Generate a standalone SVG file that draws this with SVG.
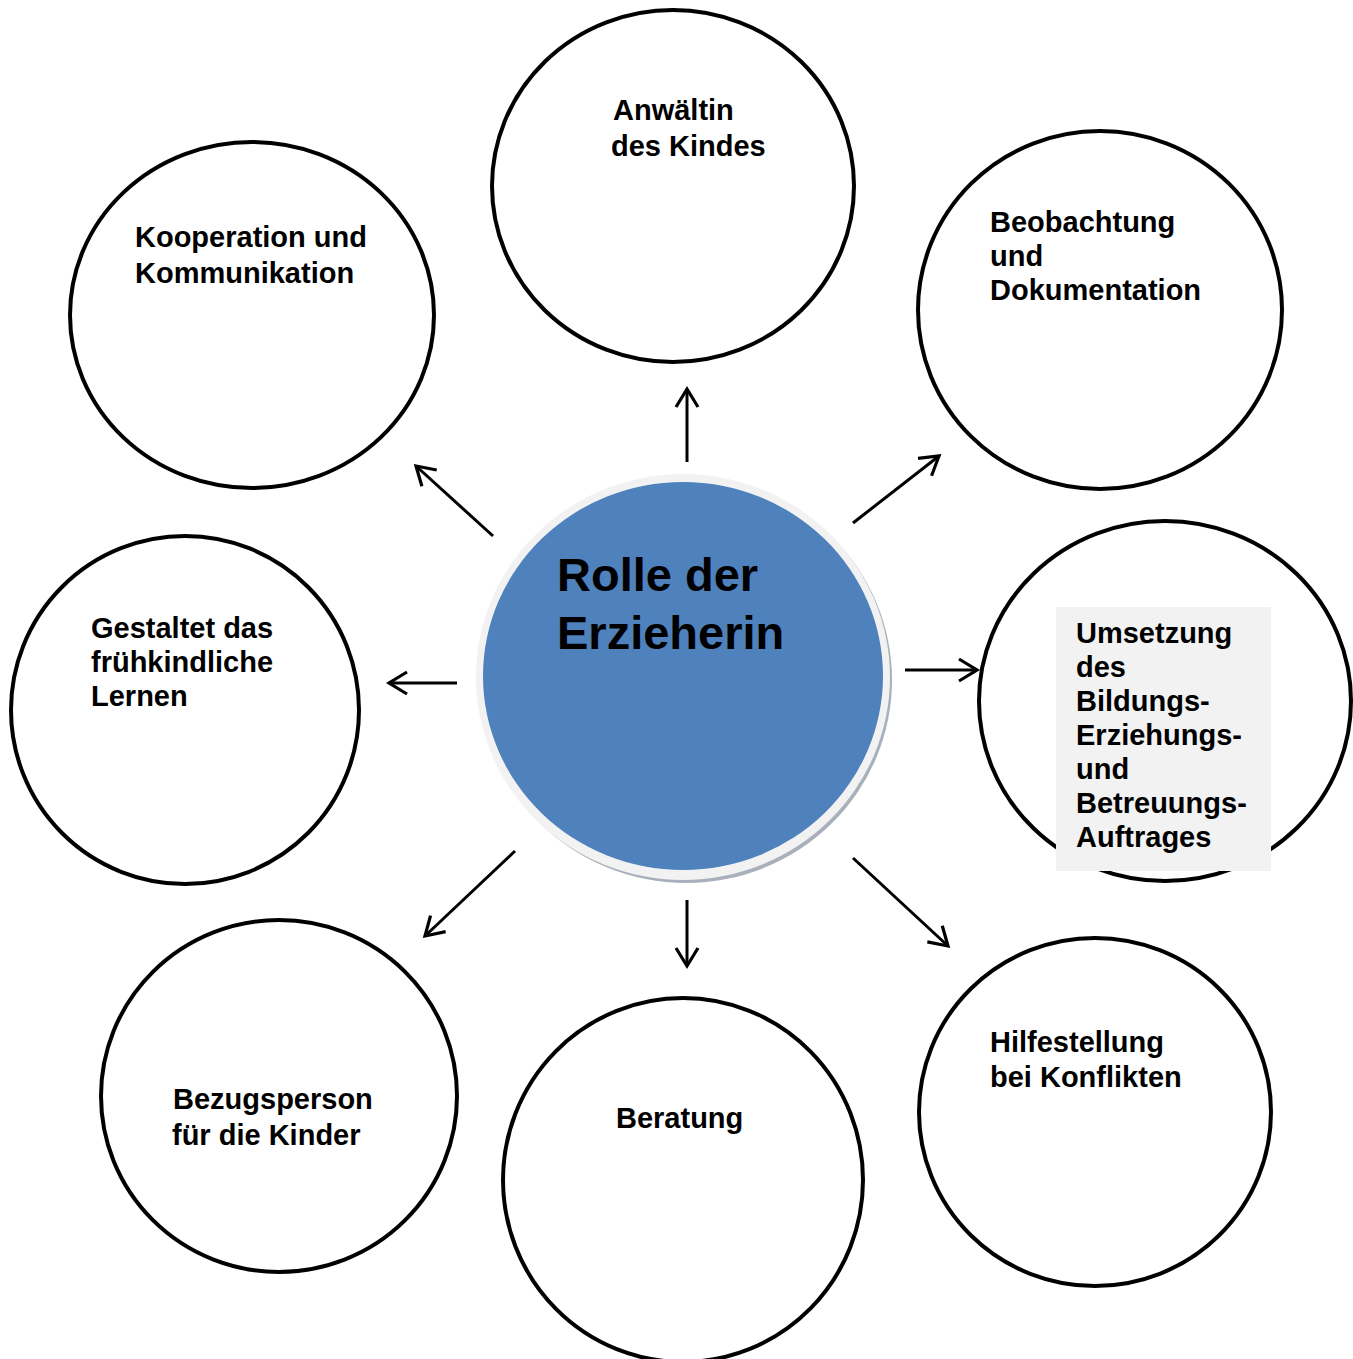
<svg xmlns="http://www.w3.org/2000/svg" width="1353" height="1359" viewBox="0 0 1353 1359">
<defs>
<style>
.ring{fill:#ffffff;stroke:#000;stroke-width:4}
.lbl{font-family:"Liberation Sans",Arial,sans-serif;font-weight:bold;font-size:29px;fill:#000}
.title{font-family:"Liberation Sans",Arial,sans-serif;font-weight:bold;font-size:47px;fill:#000}
.conn{stroke:#000;stroke-width:3;fill:none;marker-end:url(#arr)}
</style>
<marker id="arr" viewBox="0 0 24 24" refX="20" refY="12" markerWidth="24" markerHeight="24" markerUnits="userSpaceOnUse" orient="auto" overflow="visible">
<path d="M2,1 L20,12 L2,23" fill="none" stroke="#000" stroke-width="3.2" stroke-linejoin="miter"/>
</marker>
</defs>
<rect width="1353" height="1359" fill="#fff"/>
<g id="connectors">
<line class="conn" x1="687" y1="462" x2="687" y2="389"/>
<line class="conn" x1="853" y1="523" x2="939" y2="456"/>
<line class="conn" x1="905" y1="670" x2="977" y2="670"/>
<line class="conn" x1="853" y1="858" x2="948" y2="946"/>
<line class="conn" x1="687" y1="900" x2="687" y2="966"/>
<line class="conn" x1="515" y1="851" x2="425" y2="936"/>
<line class="conn" x1="457" y1="683" x2="389" y2="683"/>
<line class="conn" x1="493" y1="536" x2="416" y2="466"/>
</g>
<g id="center">
<ellipse cx="686" cy="680" rx="206" ry="203" fill="#a8b0bc"/>
<ellipse cx="683" cy="677" rx="207" ry="203" fill="#f2f2f2"/>
<ellipse cx="683" cy="676" rx="200" ry="194" fill="#4f81bd"/>
<text class="title" x="557" y="591">Rolle der</text>
<text class="title" x="557" y="649">Erzieherin</text>
</g>
<g id="n-anwaeltin">
<ellipse class="ring" cx="673" cy="186" rx="181" ry="176"/>
<text class="lbl" x="613" y="120">Anwältin</text>
<text class="lbl" x="611" y="156">des Kindes</text>
</g>
<g id="n-kooperation">
<ellipse class="ring" cx="252" cy="315" rx="182" ry="173"/>
<text class="lbl" x="135" y="247">Kooperation und</text>
<text class="lbl" x="135" y="283">Kommunikation</text>
</g>
<g id="n-beobachtung">
<ellipse class="ring" cx="1100" cy="310" rx="182" ry="179"/>
<text class="lbl" x="990" y="232">Beobachtung</text>
<text class="lbl" x="990" y="266">und</text>
<text class="lbl" x="990" y="300">Dokumentation</text>
</g>
<g id="n-umsetzung">
<ellipse class="ring" cx="1165" cy="701" rx="186" ry="180"/>
<rect x="1056" y="607" width="215" height="264" fill="#f2f2f2"/>
<text class="lbl" x="1076" y="643">Umsetzung</text>
<text class="lbl" x="1076" y="677">des</text>
<text class="lbl" x="1076" y="711">Bildungs-</text>
<text class="lbl" x="1076" y="745">Erziehungs-</text>
<text class="lbl" x="1076" y="779">und</text>
<text class="lbl" x="1076" y="813">Betreuungs-</text>
<text class="lbl" x="1076" y="847">Auftrages</text>
</g>
<g id="n-gestaltet">
<ellipse class="ring" cx="185" cy="710" rx="174" ry="174"/>
<text class="lbl" x="91" y="638">Gestaltet das</text>
<text class="lbl" x="91" y="672">frühkindliche</text>
<text class="lbl" x="91" y="706">Lernen</text>
</g>
<g id="n-bezugsperson">
<ellipse class="ring" cx="279" cy="1096" rx="178" ry="176"/>
<text class="lbl" x="173" y="1109">Bezugsperson</text>
<text class="lbl" x="172" y="1145">für die Kinder</text>
</g>
<g id="n-beratung">
<ellipse class="ring" cx="683" cy="1180" rx="180" ry="182"/>
<text class="lbl" x="616" y="1128">Beratung</text>
</g>
<g id="n-hilfestellung">
<ellipse class="ring" cx="1095" cy="1112" rx="176" ry="174"/>
<text class="lbl" x="990" y="1052">Hilfestellung</text>
<text class="lbl" x="990" y="1087">bei Konflikten</text>
</g>
</svg>
